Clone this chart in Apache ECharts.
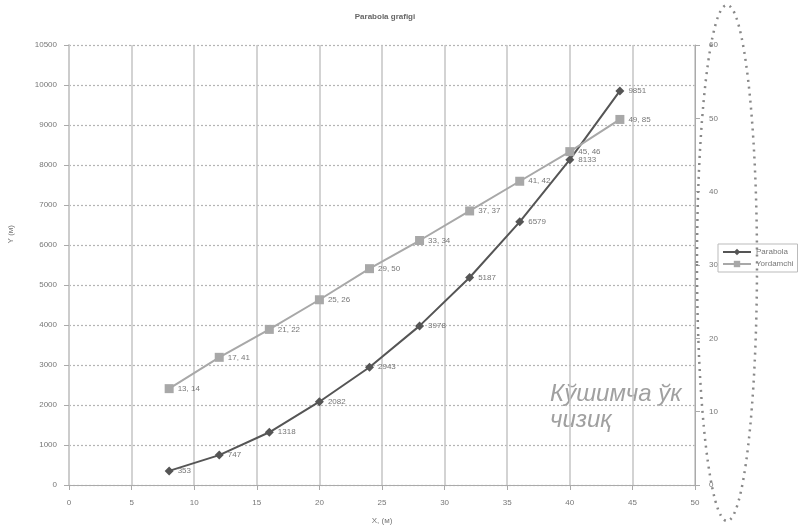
<!DOCTYPE html>
<html>
<head>
<meta charset="utf-8">
<script src="https://cdn.jsdelivr.net/npm/echarts@6/dist/echarts.min.js"></script>
<style>
  html, body { margin: 0; padding: 0; background: #fff; }
  #chart { width: 799px; height: 531px; }
</style>
</head>
<body>
<div id="chart"></div>
<script>
// x qiymatlari (ikkala seriya uchun bir xil)
const xValues = [8, 12, 16, 20, 24, 28, 32, 36, 40, 44];
// Parabola, chap o'q
const parabola = [353, 747, 1318, 2082, 2943, 3978, 5187, 6579, 8133, 9851];
// yordamchi seriya, o'ng o'q
const extra = [13.14, 17.41, 21.22, 25.26, 29.50, 33.34, 37.37, 41.42, 45.46, 49.85];
const seriesNames = ['Parabola', 'Yordamchi'];

const font = '"Liberation Sans", "DejaVu Sans", sans-serif';

let chart = echarts.init(document.getElementById('chart'));
let option = {
    animation: false,
    title: {
        text: 'Parabola grafigi',
        left: 380,
        top: 8,
        textAlign: 'center',
        textStyle: { fontSize: 8, fontWeight: 'bold', color: '#666', fontFamily: font }
    },
    legend: {
        orient: 'vertical',
        left: 718,
        top: 244,
        itemGap: 4,
        itemWidth: 28,
        itemHeight: 8,
        padding: [4, 4],
        borderColor: '#bbb',
        borderWidth: 1,
        textStyle: { fontSize: 8, color: '#777', fontFamily: font },
        data: seriesNames
    },
    grid: { left: 69, right: 104, top: 45, bottom: 46 },
    xAxis: {
        type: 'value',
        min: 0, max: 50, interval: 5,
        name: 'X, (м)',
        nameLocation: 'middle',
        nameGap: 32,
        nameTextStyle: { fontSize: 8, color: '#777', fontFamily: font },
        axisLine: { lineStyle: { color: '#aaa' } },
        axisTick: { show: true, lineStyle: { color: '#aaa' } },
        axisLabel: { fontSize: 8, color: '#777', margin: 14, fontFamily: font },
        splitLine: { show: true, lineStyle: { color: '#c4c4c4', width: 1.5 } }
    },
    yAxis: [
        {
            type: 'value',
            min: 0, max: 11000, interval: 1000,
            axisLine: { show: true, lineStyle: { color: '#ccc', width: 2 } },
            axisTick: { show: true, lineStyle: { color: '#aaa' } },
            axisLabel: {
                fontSize: 8, color: '#777', fontFamily: font, margin: 12,
                formatter: function (v) { return v === 11000 ? '10500' : v; }
            },
            splitLine: { show: true, lineStyle: { color: '#b4b4b4', type: [2, 2], width: 1.2 } }
        },
        {
            type: 'value',
            min: 0, max: 60, interval: 10,
            position: 'right',
            axisLine: { show: true, lineStyle: { color: '#aaa' } },
            axisTick: { show: true, lineStyle: { color: '#aaa' } },
            axisLabel: { fontSize: 8, color: '#777', fontFamily: font, margin: 14 },
            splitLine: { show: false }
        }
    ],
    series: [
        {
            name: seriesNames[0],
            type: 'line',
            yAxisIndex: 0,
            data: xValues.map((x, i) => [x, parabola[i]]),
            symbol: 'diamond',
            symbolSize: 9,
            lineStyle: { color: '#555', width: 2 },
            itemStyle: { color: '#555' },
            label: {
                show: true, position: 'right', distance: 4,
                fontSize: 8, color: '#777', fontFamily: font,
                formatter: p => p.value[1]
            }
        },
        {
            name: seriesNames[1],
            type: 'line',
            yAxisIndex: 1,
            data: xValues.map((x, i) => [x, extra[i]]),
            symbol: 'rect',
            symbolSize: 9,
            lineStyle: { color: '#a8a8a8', width: 2 },
            itemStyle: { color: '#a8a8a8' },
            label: {
                show: true, position: 'right', distance: 4,
                fontSize: 8, color: '#777', fontFamily: font,
                formatter: p => p.value[1].toFixed(2).replace('.', ', ')
            }
        }
    ],
    graphic: [
        {
            // chap o'q nomi
            type: 'text',
            left: 7,
            top: 225,
            rotation: Math.PI / 2,
            style: { text: 'Y (м)', fontSize: 8, fill: '#777', fontFamily: font }
        },
        {
            type: 'text',
            left: 550,
            top: 381,
            style: {
                text: 'Кўшимча ўк\nчизиқ',
                fontSize: 24,
                fontStyle: 'italic',
                lineHeight: 26,
                fill: '#a0a0a0',
                fontFamily: font
            }
        },
        {
            type: 'ellipse',
            shape: { cx: 727, cy: 263, rx: 30, ry: 258 },
            style: { fill: 'none', stroke: '#888', lineWidth: 2.5, lineDash: [2, 5] },
            z: 100
        }
    ]
};
chart.setOption(option);
</script>
</body>
</html>
